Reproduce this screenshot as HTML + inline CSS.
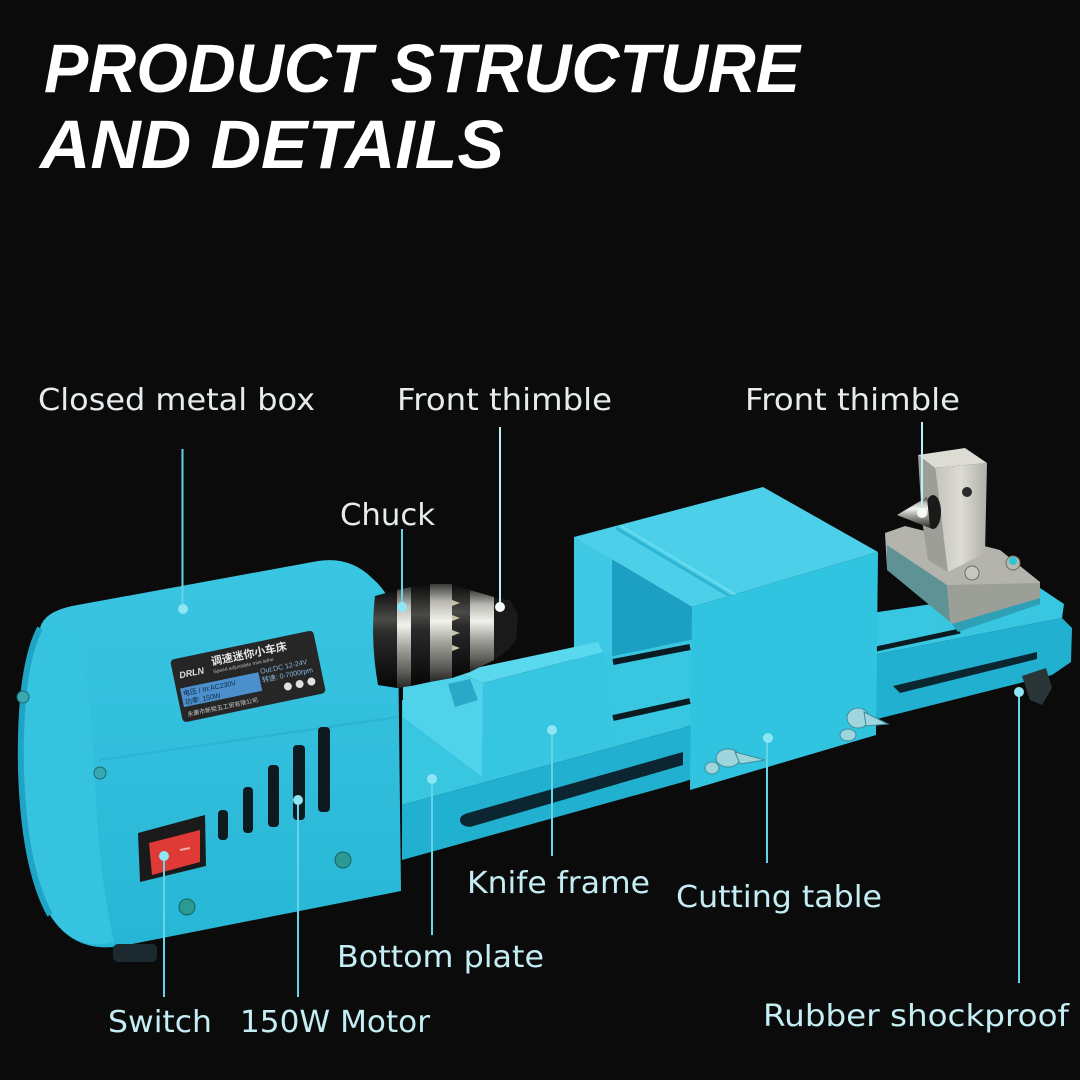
<!DOCTYPE html>
<html><head><meta charset="utf-8"><style>
html,body{margin:0;padding:0;background:#0b0b0b;}
svg{display:block}
</style></head><body>
<svg width="1080" height="1080" viewBox="0 0 1080 1080" xmlns="http://www.w3.org/2000/svg">
<defs>
<linearGradient id="silv" x1="0" y1="0" x2="0" y2="1">
 <stop offset="0" stop-color="#3a3a38"/>
 <stop offset="0.18" stop-color="#b9b9b2"/>
 <stop offset="0.38" stop-color="#f2f2ec"/>
 <stop offset="0.6" stop-color="#a3a39d"/>
 <stop offset="0.85" stop-color="#5a5a56"/>
 <stop offset="1" stop-color="#262624"/>
</linearGradient>
<linearGradient id="blk" x1="0" y1="0" x2="0" y2="1">
 <stop offset="0" stop-color="#0c0c0c"/>
 <stop offset="0.3" stop-color="#4a4a48"/>
 <stop offset="0.45" stop-color="#2a2a2a"/>
 <stop offset="0.8" stop-color="#141414"/>
 <stop offset="1" stop-color="#060606"/>
</linearGradient>
<linearGradient id="boxg" x1="0" y1="0" x2="0" y2="1">
 <stop offset="0" stop-color="#3ac6e2"/>
 <stop offset="1" stop-color="#28b6d6"/>
</linearGradient>
<linearGradient id="tsg" x1="0" y1="0" x2="1" y2="0">
 <stop offset="0" stop-color="#c4c4bc"/>
 <stop offset="0.5" stop-color="#dcdcd4"/>
 <stop offset="1" stop-color="#b0b0a8"/>
</linearGradient>
</defs>
<rect width="1080" height="1080" fill="#0b0b0b"/>

<!-- Title -->
<text x="44" y="92" font-family="Liberation Sans, sans-serif" font-weight="bold" font-style="italic" font-size="69" fill="#ffffff" textLength="756" lengthAdjust="spacingAndGlyphs">PRODUCT STRUCTURE</text>
<text x="40" y="168" font-family="Liberation Sans, sans-serif" font-weight="bold" font-style="italic" font-size="69" fill="#ffffff" textLength="464" lengthAdjust="spacingAndGlyphs">AND DETAILS</text>

<!-- Cutting table interior -->
<polygon points="574,537 692,607 692,722 574,726" fill="#1b9fc2"/>
<polygon points="574,537 612,558 612,712 574,716" fill="#3fc8e3"/>

<!-- Bed -->
<polygon points="402,700 690,640 1040,588 1064,604 1062,618 873,655 683,728 402,805" fill="#38c6e1"/>
<polygon points="402,805 683,728 873,655 1062,618 1072,628 1071,662 1052,675 873,720 683,782 402,860" fill="#22b0d1"/>
<line x1="613" y1="662" x2="690" y2="647" stroke="#0a1c22" stroke-width="6"/>
<line x1="613" y1="718" x2="690" y2="701" stroke="#0a1c22" stroke-width="6"/>
<line x1="876" y1="649" x2="960" y2="631" stroke="#0a1c22" stroke-width="5"/>
<path d="M468,813 L683,752 L683,765 L470,827 Q460,826 460,820 Q460,815 468,813 Z" fill="#0b2630"/>
<path d="M893,686 L1037,652 L1037,659 L900,693 Z" fill="#0b2630"/>
<path d="M1022,676 L1046,668 L1052,688 L1042,705 L1030,700 Z" fill="#2a3538"/>

<!-- Cutting table top & front -->
<polygon points="574,537 763,487 878,552 692,607" fill="#4ccfe8"/>
<line x1="616" y1="528" x2="733" y2="598" stroke="#2fb5d4" stroke-width="3"/>
<line x1="621" y1="526" x2="738" y2="596" stroke="#6adcef" stroke-width="2"/>
<polygon points="692,607 878,552 876,735 690,790" fill="#31c4e1"/>
<!-- wing screws -->
<g fill="#9fd6de" stroke="#3d8d9a" stroke-width="1">
 <ellipse cx="728" cy="758" rx="12" ry="9"/>
 <ellipse cx="712" cy="768" rx="7" ry="6"/>
 <path d="M735,752 L765,760 L740,764 Z"/>
 <ellipse cx="858" cy="718" rx="11" ry="10"/>
 <ellipse cx="848" cy="735" rx="8" ry="6"/>
 <path d="M864,712 L888,724 L866,726 Z"/>
</g>

<!-- Knife frame -->
<polygon points="403,683 457,672 483,683 482,777 403,717" fill="#4fd2ea"/>
<polygon points="448,684 470,679 478,700 455,707" fill="#2aa8c8"/>
<polygon points="483,683 603,652 612,740 482,777" fill="#36c6e2"/>
<polygon points="457,672 598,642 603,652 483,683" fill="#5ad8ee"/>

<!-- Tailstock -->
<polygon points="885,533 905,526 1000,550 1040,582 1040,598 960,628 887,568" fill="#b4b4ac"/>
<polygon points="947,585 1040,583 1040,598 960,628 950,622" fill="#9c9e98"/>
<polygon points="887,545 947,585 950,622 887,570" fill="#5f9294"/>
<polygon points="952,624 1040,598 1040,604 958,632" fill="#2e9fb5"/>
<polygon points="918,455 935,468 948,572 928,560 922,520" fill="#9e9e98"/>
<polygon points="935,468 987,463 985,553 948,572" fill="url(#tsg)"/>
<polygon points="918,455 965,448 987,463 935,468" fill="#dcdcd4"/>
<circle cx="967" cy="492" r="5" fill="#2a2a2a"/>
<ellipse cx="933" cy="512" rx="8" ry="17" fill="#1a1a1a"/>
<polygon points="897,515 927,497 930,528" fill="url(#silv)"/>
<circle cx="972" cy="573" r="7" fill="#c8c8c0" stroke="#6b6b66"/>
<circle cx="1013" cy="563" r="7" fill="#b8b8b0" stroke="#6b6b66"/>
<circle cx="1013" cy="561" r="4" fill="#2ec4d8"/>

<!-- Headstock box -->
<path d="M40,628 Q44,612 72,606 L318,561 Q350,556 372,578 Q398,600 398,640 L401,891 L122,946 Q74,954 50,915 Q24,868 21,770 Q19,668 40,628 Z" fill="url(#boxg)"/>
<path d="M40,628 Q55,615 78,626 Q92,700 96,800 Q100,880 114,942 Q74,952 50,915 Q24,868 21,770 Q19,668 40,628 Z" fill="#35c3e0"/>
<path d="M40,628 Q19,668 21,770 Q24,868 50,915" fill="none" stroke="#1fa4c6" stroke-width="6"/>
<line x1="100" y1="760" x2="398" y2="717" stroke="#2ab3d3" stroke-width="2"/>
<rect x="113" y="944" width="44" height="18" rx="5" fill="#1c2a30"/>
<!-- screws -->
<circle cx="343" cy="860" r="8" fill="#2a9a92" stroke="#17645f"/>
<circle cx="187" cy="907" r="8" fill="#2a9a92" stroke="#17645f"/>
<circle cx="23" cy="697" r="6" fill="#3aa8b0" stroke="#1d6a70"/>
<circle cx="100" cy="773" r="6" fill="#3aa8b0" stroke="#1d6a70"/>
<!-- vents -->
<g fill="#0d1a1f">
 <rect x="218" y="810" width="10" height="30" rx="4"/>
 <rect x="243" y="787" width="10" height="46" rx="4"/>
 <rect x="268" y="765" width="11" height="62" rx="4"/>
 <rect x="293" y="745" width="12" height="75" rx="4"/>
 <rect x="318" y="727" width="12" height="85" rx="4"/>
</g>
<!-- switch -->
<polygon points="138,833 205,815 206,866 140,882" fill="#1a1a1a"/>
<polygon points="149,843 200,830 200,862 152,875" fill="#e03a36"/>
<line x1="180" y1="850" x2="190" y2="848" stroke="#f3a6a4" stroke-width="2"/>
<!-- nameplate -->
<g transform="translate(170,660) rotate(-11.8)">
 <rect width="146" height="64" rx="4" fill="#262626"/>
 <rect x="4" y="30" width="80" height="19" fill="#4b8fcc"/>
 <text x="6" y="20" font-family="Liberation Sans, sans-serif" font-weight="bold" font-style="italic" font-size="9" fill="#e0e0e0">DRLN</text>
 <text x="40" y="14" font-family="Liberation Sans, 'Noto Sans CJK SC', sans-serif" font-weight="bold" font-size="11" fill="#e8e8e8">调速迷你小车床</text>
 <text x="40" y="22" font-family="Liberation Sans, sans-serif" font-size="5" fill="#bbbbbb">Speed adjustable mini lathe</text>
 <text x="6" y="38" font-family="Liberation Sans, 'Noto Sans CJK SC', sans-serif" font-size="7" fill="#0f2a44">电压 / In:AC230V</text>
 <text x="6" y="47" font-family="Liberation Sans, 'Noto Sans CJK SC', sans-serif" font-size="7" fill="#0f2a44">功率: 150W</text>
 <text x="86" y="32" font-family="Liberation Sans, sans-serif" font-size="7" fill="#8ab8e0">Out:DC 12-24V</text>
 <text x="86" y="41" font-family="Liberation Sans, 'Noto Sans CJK SC', sans-serif" font-size="7" fill="#8ab8e0">转速: 0-7000rpm</text>
 <circle cx="110" cy="50" r="4" fill="#e0e0e0"/>
 <circle cx="122" cy="50" r="4" fill="#e0e0e0"/>
 <circle cx="134" cy="50" r="4" fill="#e0e0e0"/>
 <text x="6" y="59" font-family="Liberation Sans, 'Noto Sans CJK SC', sans-serif" font-size="6" fill="#cccccc">永康市新钜五工贸有限公司</text>
</g>

<!-- Chuck -->
<path d="M375,596 L397,590 L397,688 L378,685 Q370,640 375,596 Z" fill="url(#blk)"/>
<path d="M397,590 L411,587 L411,686 L397,688 Z" fill="url(#silv)"/>
<path d="M411,587 L430,584 L430,682 L411,686 Z" fill="url(#blk)"/>
<path d="M430,584 L452,584 L452,678 L430,682 Z" fill="url(#silv)"/>
<path d="M452,584 L470,590 L470,672 L452,678 Z" fill="url(#blk)"/>
<g fill="#c9c2a8">
 <polygon points="452,600 460,603 452,606"/>
 <polygon points="452,615 460,618 452,621"/>
 <polygon points="452,630 460,633 452,636"/>
 <polygon points="452,645 460,648 452,651"/>
</g>
<path d="M470,590 L494,597 L494,660 L470,672 Z" fill="url(#silv)"/>
<path d="M494,598 L510,600 L518,615 L516,640 L508,650 L494,660 Z" fill="#1a1a1a"/>

<!-- Leader lines -->
<g stroke="#66d4e8" stroke-width="2">
 <line x1="182.5" y1="449" x2="182.5" y2="607"/>
 <line x1="402" y1="529" x2="402" y2="605"/>
 <line x1="552" y1="730" x2="552" y2="856"/>
 <line x1="767" y1="738" x2="767" y2="863"/>
 <line x1="432" y1="779" x2="432" y2="935"/>
 <line x1="298" y1="800" x2="298" y2="997"/>
 <line x1="164" y1="856" x2="164" y2="997"/>
 <line x1="1019" y1="692" x2="1019" y2="983"/>
</g>
<g stroke="#bfeef6" stroke-width="2">
 <line x1="500" y1="427" x2="500" y2="605"/>
 <line x1="922" y1="422" x2="922" y2="512"/>
</g>
<!-- Dots -->
<g fill="#8fe6f3">
 <circle cx="183" cy="609" r="5"/>
 <circle cx="402" cy="607" r="5"/>
 <circle cx="552" cy="730" r="5"/>
 <circle cx="768" cy="738" r="5"/>
 <circle cx="432" cy="779" r="5"/>
 <circle cx="298" cy="800" r="5"/>
 <circle cx="164" cy="856" r="5"/>
 <circle cx="1019" cy="692" r="5"/>
</g>
<g fill="#f6fafb">
 <circle cx="500" cy="607" r="5"/>
 <circle cx="922" cy="513" r="5"/>
</g>

<!-- Labels -->
<g font-family="DejaVu Sans, Liberation Sans, sans-serif" font-size="30" fill="#e6ecee">
 <text x="38" y="410" textLength="277" lengthAdjust="spacingAndGlyphs">Closed metal box</text>
 <text x="397" y="410" textLength="215" lengthAdjust="spacingAndGlyphs">Front thimble</text>
 <text x="745" y="410" textLength="215" lengthAdjust="spacingAndGlyphs">Front thimble</text>
 <text x="340" y="525" textLength="95" lengthAdjust="spacingAndGlyphs">Chuck</text>
</g>
<g font-family="DejaVu Sans, Liberation Sans, sans-serif" font-size="30" fill="#c4eef4">
 <text x="467" y="893" textLength="183" lengthAdjust="spacingAndGlyphs">Knife frame</text>
 <text x="676" y="907" textLength="206" lengthAdjust="spacingAndGlyphs">Cutting table</text>
 <text x="337" y="967" textLength="207" lengthAdjust="spacingAndGlyphs">Bottom plate</text>
 <text x="108" y="1032" textLength="104" lengthAdjust="spacingAndGlyphs">Switch</text>
 <text x="240" y="1032" textLength="190" lengthAdjust="spacingAndGlyphs">150W Motor</text>
 <text x="763" y="1026" textLength="306" lengthAdjust="spacingAndGlyphs">Rubber shockproof</text>
</g>
</svg>
</body></html>
